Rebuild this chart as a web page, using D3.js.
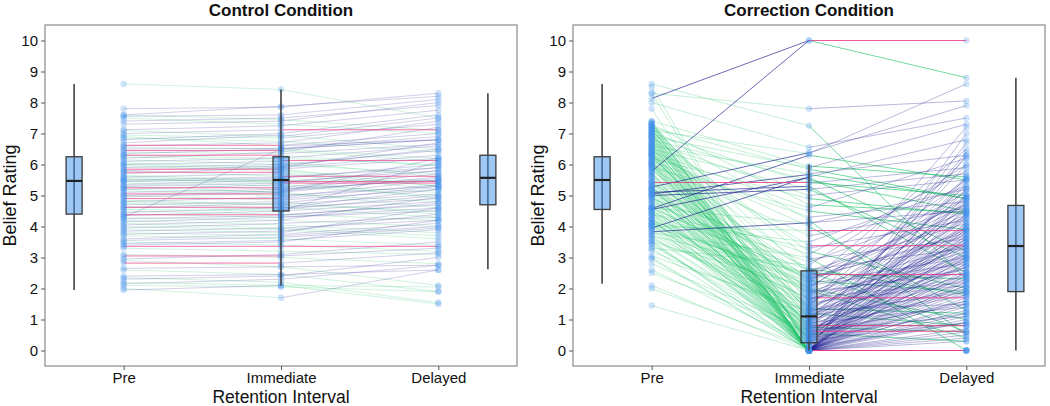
<!DOCTYPE html>
<html><head><meta charset="utf-8">
<script src="https://cdn.jsdelivr.net/npm/d3@7"></script>
<style>body{margin:0;background:#fff}svg{display:block}text{font-family:"Liberation Sans",Arial,sans-serif;fill:#111}</style>
</head><body><svg id="c" width="1050" height="406"></svg>
<script>
const intervals = ["Pre", "Immediate", "Delayed"];
const yTicks = [0,1,2,3,4,5,6,7,8,9,10];

// Control condition: per-participant ratings
const controlPre = [8.6,7.8,7.6,7.55,7.5,7.4,7.12,7.1,7.0,6.95,
 6.9,6.8,6.7,6.62,6.55,6.5,6.45,6.4,6.35,6.3,
 6.25,6.2,6.15,6.1,6.05,6.0,5.95,5.9,5.85,5.8,
 5.75,5.7,5.65,5.6,5.55,5.5,5.47,5.45,5.4,5.35,
 5.3,5.25,5.2,5.15,5.1,5.05,5.0,4.95,4.9,4.85,
 4.8,4.75,4.7,4.65,4.62,4.55,4.5,4.45,4.4,4.38,
 4.35,4.3,4.28,4.25,4.2,4.15,4.1,4.05,4.0,3.95,
 3.9,3.85,3.8,3.75,3.7,3.6,3.5,3.45,3.4,3.36,
 3.3,3.1,3.05,2.95,2.9,2.82,2.65,2.6,2.4,2.35,
 2.3,2.2,2.15,2.1,2.0,1.95,6.6,6.0,5.8,5.6,
 5.5,5.3,5.0,4.8,6.3,7.3,7.6,4.6,6.85,5.2,3.55];
const controlImm = [8.42,7.85,7.88,7.6,7.3,7.5,7.25,6.9,7.12,6.85,
 6.6,7.0,6.95,6.62,6.5,6.52,6.45,6.35,6.5,6.3,
 6.13,6.4,6.0,6.2,5.9,6.1,5.8,6.0,5.85,5.62,
 5.75,5.9,5.5,5.45,5.4,5.6,5.3,5.55,5.2,5.5,
 5.1,5.25,5.35,5.0,5.2,5.05,4.85,5.1,4.9,4.7,
 4.95,4.6,4.8,4.55,4.62,4.5,4.4,4.6,4.3,4.38,
 4.5,6.5,4.2,4.35,4.05,4.3,3.95,4.2,3.9,4.1,
 3.8,3.95,3.7,3.85,3.6,3.75,3.4,3.55,3.5,3.36,
 3.2,3.0,3.05,3.1,2.7,2.82,2.7,2.45,2.45,2.2,
 2.4,2.1,2.3,2.05,1.7,2.1,6.7,5.85,5.95,5.7,
 5.45,5.4,5.15,4.7,6.2,7.4,7.45,4.75,6.75,5.1,3.65];
const controlDel = [7.5,8.3,8.2,8.1,7.0,7.9,7.75,7.5,7.12,7.3,
 6.8,7.6,6.5,7.0,6.2,6.9,6.1,6.65,6.8,5.95,
 6.13,7.2,5.7,6.6,6.3,5.6,5.45,6.45,6.2,5.62,
 5.3,6.7,5.45,5.45,5.4,5.9,5.0,6.0,5.5,4.9,
 5.6,5.8,5.1,5.3,5.7,4.8,5.2,6.2,5.35,4.5,
 5.5,4.9,4.4,5.0,4.3,4.8,4.2,5.2,4.6,4.7,
 6.1,6.8,4.0,4.75,3.8,4.5,4.2,4.95,3.6,4.3,
 4.6,3.7,4.0,4.4,3.4,4.1,3.2,3.9,4.2,3.36,
 3.1,2.8,3.3,3.5,2.1,3.15,2.75,1.9,2.6,1.55,
 3.0,1.5,2.75,1.9,2.6,2.05,7.4,5.3,6.5,5.2,
 5.8,5.9,5.55,5.05,6.0,8.0,7.1,5.3,6.4,4.6,3.95];

// Correction condition: per-participant ratings
const correctionPre = [8.13,5.78,8.3,8.6,8.0,5.27,4.58,7.1,5.42,5.05,
 5.0,4.55,3.95,3.83,5.1,7.4,6.9,7.2,6.6,6.8,
 7.0,6.5,6.7,6.2,7.3,6.4,5.9,6.1,7.15,4.6,
 6.3,4.0,6.0,4.1,6.45,4.4,6.9,4.9,3.8,7.05,
 4.7,3.3,5.2,4.4,6.6,3.7,7.2,4.6,5.4,4.8,
 6.3,4.1,5.65,4.2,3.5,5.1,6.75,4.35,4.5,7.3,
 6.2,3.95,4.1,6.85,5.25,4.25,3.6,5.85,7.1,4.95,
 6.0,3.05,6.65,4.3,5.6,7.25,4.15,3.2,5.0,6.55,
 5.45,6.95,4.6,6.25,5.15,4.0,6.7,5.8,7.35,5.9,
 6.3,3.75,7.0,4.75,6.15,5.2,4.05,3.9,5.95,6.45,
 5.65,4.45,7.15,3.85,5.3,2.8,6.6,5.05,4.55,4.85,
 7.4,5.75,3.4,6.35,5.55,4.65,6.9,5.15,6.05,4.25,
 7.05,3.45,6.5,2.5,5.4,6.75,4.0,6.1,3.65,7.2,
 4.9,6.4,3.7,5.25,6.65,2.95,5.5,7.0,4.8,6.6,
 5.9,6.35,5.1,7.3,4.4,6.05,5.7,6.85,3.5,5.3,
 6.45,7.15,4.95,3.55,6.25,2.1,5.45,6.7,4.6,6.0,
 5.6,7.25,4.2,6.55,5.2,6.9,1.45,5.95,6.3,4.7,
 7.05,5.35,6.15,3.0,6.8,4.25,6.4,4.45,5.0,7.35,
 2.0,6.1,5.75,8.3,8.5,7.8,2.6,3.3,4.1,6.95];
const correctionImm = [10,10,7.8,7.25,6.55,6.38,6.3,6.35,5.42,5.68,
 5.2,5.58,5.6,4.12,5.3,5.95,5.9,5.85,5.7,5.5,
 5.4,5.2,5.0,4.9,4.7,4.6,4.5,4.3,4.2,4.1,
 4.0,3.87,3.7,3.5,3.38,3.3,3.2,3.1,3.0,2.95,
 2.85,2.75,2.65,2.6,2.58,2.5,2.45,2.4,2.35,2.3,
 2.25,2.2,2.15,2.1,2.05,2.0,1.95,1.9,1.85,1.8,
 1.75,1.7,1.65,1.6,1.55,1.5,1.45,1.4,1.38,1.35,
 1.3,1.28,1.25,1.22,1.2,1.18,1.15,1.12,1.1,1.1,
 2.0,1.7,2.3,1.4,1.9,2.4,1.6,2.2,1.3,2.55,
 1.05,1.0,0.98,0.95,0.92,0.9,0.88,0.85,0.82,0.8,
 0.78,0.75,0.72,0.7,0.68,0.65,0.62,0.6,0.58,0.55,
 0.52,0.5,0.48,0.45,0.42,0.4,0.38,0.35,0.33,0.3,
 0.28,0.26,0.25,0.6,0.85,0.7,0.5,0.95,0.4,0.3,
 0.75,0.55,0.45,0.65,0.35,0,0,0,0,0,
 0,0,0,0,0,0,0,0,0,0,
 0,0,0,0,0,0,0,0,0,0,
 0,0,0,0,0,0,0,0,0,0,
 0,0,0,0,0,0,0,0,0,0,
 0.1,0.15,0.2,0.05,0.1,0.15,0.2,0,0,0];
const correctionDel = [10,8.8,8.05,2.3,7.5,7.9,5.5,8.6,5.0,4.9,
 5.7,3.2,6.8,4.5,2.5,5.6,7.3,4.9,6.3,4.5,
 5.9,3.0,5.5,4.4,4.45,6.2,3.9,4.8,0.5,5.2,
 1.3,3.87,4.6,5.3,3.38,4.2,2.0,5.8,0,3.6,
 4.7,6.0,1.8,3.3,4.1,2.3,2.45,5.1,3.7,4.3,
 1.9,6.5,3.0,2.8,4.9,5.5,0.4,3.4,2.6,4.4,
 3.9,1.7,3.2,5.0,2.1,4.6,2.9,6.2,3.5,1.2,
 4.0,2.4,5.3,3.1,0.8,4.2,2.7,1.9,3.6,4.8,
 1.0,2.2,3.8,7.2,2.5,4.5,3.3,4.7,1.5,0.6,
 3.4,2.0,5.6,3.0,4.5,1.4,3.8,2.3,0.8,0.8,
 4.1,1.8,3.5,2.7,6.0,1.1,0.62,2.9,4.4,0.3,
 3.2,1.6,2.5,5.0,3.9,1.2,2.4,4.7,0.9,3.6,
 5.4,2.1,3.0,1.5,4.3,1.9,3.7,5.2,2.8,3.3,
 0.6,4.0,2.2,3.1,6.4,0,0,0,0,3.5,
 2.0,4.8,1.2,5.6,2.6,0.5,3.9,1.7,2.3,4.4,
 0.9,3.0,6.3,1.5,2.8,0.7,3.4,5.0,1.9,4.1,
 2.4,0.3,3.7,7.0,1.0,3.2,0.4,4.6,2.2,5.2,
 1.3,3.8,2.9,0.6,4.3,1.8,6.7,2.5,0,3.6,
 0.9,2.7,4.9,3.1,1.4,5.5,1.6,2.1,1.1,4.0];

// Box-plot summaries: [lowWhisker, q1, median, q3, highWhisker]
const controlBoxes = [[1.95,4.4,5.47,6.25,8.6],[2.1,4.5,5.5,6.25,8.42],[2.62,4.7,5.57,6.3,8.3]];
const correctionBoxes = [[2.15,4.55,5.5,6.25,8.6],[0,0.25,1.1,2.57,6.0],[0,1.9,3.37,4.68,8.8]];
const boxPositions = [0.685, 2, 3.315];

const panels = [
  {title:"Control Condition", left:45, pre:controlPre, imm:controlImm, del:controlDel, boxes:controlBoxes,
   alpha:[{down:0.2,up:0.2,same:0.7},{down:0.2,up:0.2,same:0.7}]},
  {title:"Correction Condition", left:573, pre:correctionPre, imm:correctionImm, del:correctionDel, boxes:correctionBoxes,
   alpha:[{down:0.26,up:0.65,same:0.85},{down:0.6,up:0.3,same:0.85}]}
];
const colors = {down:"#14c160", up:"#1b1b8f", same:"#ec3a86"};

const svg = d3.select("#c");
const W = 472, plotTop = 25, plotBottom = 366;
const y = d3.scaleLinear().domain([-0.5,10.5]).range([plotBottom, plotTop]);

panels.forEach(p => {
  const x = d3.scaleLinear().domain([0.5,3.5]).range([p.left, p.left+W]);
  const g = svg.append("g");
  const n = p.pre.length;
  const cols = [p.pre, p.imm, p.del];
  const segs = [];
  for (let s=0; s<2; s++) for (let i=0;i<n;i++){
    const a = cols[s][i], b = cols[s+1][i];
    const k = b < a ? "down" : (b > a ? "up" : "same");
    segs.push({x1:x(s+1), y1:y(a), x2:x(s+2), y2:y(b), k, s});
  }
  const order = {down:0, up:1, same:2};
  segs.sort((u,v)=>order[u.k]-order[v.k]);
  g.selectAll("line.seg").data(segs).join("line").attr("class","seg")
    .attr("x1",d=>d.x1).attr("y1",d=>d.y1).attr("x2",d=>d.x2).attr("y2",d=>d.y2)
    .attr("stroke",d=>colors[d.k]).attr("stroke-opacity",d=>p.alpha[d.s][d.k]).attr("stroke-width",1);
  const pts = [];
  cols.forEach((c,j)=>c.forEach(v=>pts.push({j,v})));
  g.selectAll("circle").data(pts).join("circle")
    .attr("cx",d=>x(d.j+1)).attr("cy",d=>y(d.v)).attr("r",3.2)
    .attr("fill","#3f8fea").attr("fill-opacity",0.25);
  const bw = 16;
  p.boxes.forEach((b,j)=>{
    const cx = x(boxPositions[j]);
    g.append("line").attr("x1",cx).attr("x2",cx).attr("y1",y(b[0])).attr("y2",y(b[4]))
      .attr("stroke","#444").attr("stroke-width",1.6);
    g.append("rect").attr("x",cx-bw/2).attr("width",bw).attr("y",y(b[3])).attr("height",y(b[1])-y(b[3]))
      .attr("fill","#3f8fea").attr("fill-opacity",0.5).attr("stroke","#3a3a3a").attr("stroke-width",1.3);
    g.append("line").attr("x1",cx-bw/2).attr("x2",cx+bw/2).attr("y1",y(b[2])).attr("y2",y(b[2]))
      .attr("stroke","#222").attr("stroke-width",2.2);
  });
  g.append("rect").attr("x",p.left).attr("y",plotTop).attr("width",W).attr("height",plotBottom-plotTop)
    .attr("fill","none").attr("stroke","#8a8a8a").attr("stroke-width",1.2);
  const ya = g.append("g").attr("transform",`translate(${p.left},0)`)
    .call(d3.axisLeft(y).tickValues(yTicks).tickSize(4).tickPadding(3));
  const xa = g.append("g").attr("transform",`translate(0,${plotBottom})`)
    .call(d3.axisBottom(x).tickValues([1,2,3]).tickFormat((d,i)=>intervals[i]).tickSize(4).tickPadding(2));
  [ya,xa].forEach(a=>{a.select(".domain").remove();
    a.selectAll(".tick line").attr("stroke","#555");
    a.selectAll(".tick text").attr("font-size",15).attr("fill","#222").attr("font-family","Liberation Sans, Arial, sans-serif");});
  g.append("text").attr("x",p.left+W/2).attr("y",16).attr("text-anchor","middle")
    .attr("font-size",17).attr("font-weight","bold").text(p.title);
  g.append("text").attr("x",p.left+W/2).attr("y",403).attr("text-anchor","middle")
    .attr("font-size",17.5).attr("fill","#222").text("Retention Interval");
  g.append("text").attr("transform",`translate(${p.left-29},${(plotTop+plotBottom)/2}) rotate(-90)`).attr("text-anchor","middle")
    .attr("font-size",18).attr("fill","#222").text("Belief Rating");
});
</script></body></html>
